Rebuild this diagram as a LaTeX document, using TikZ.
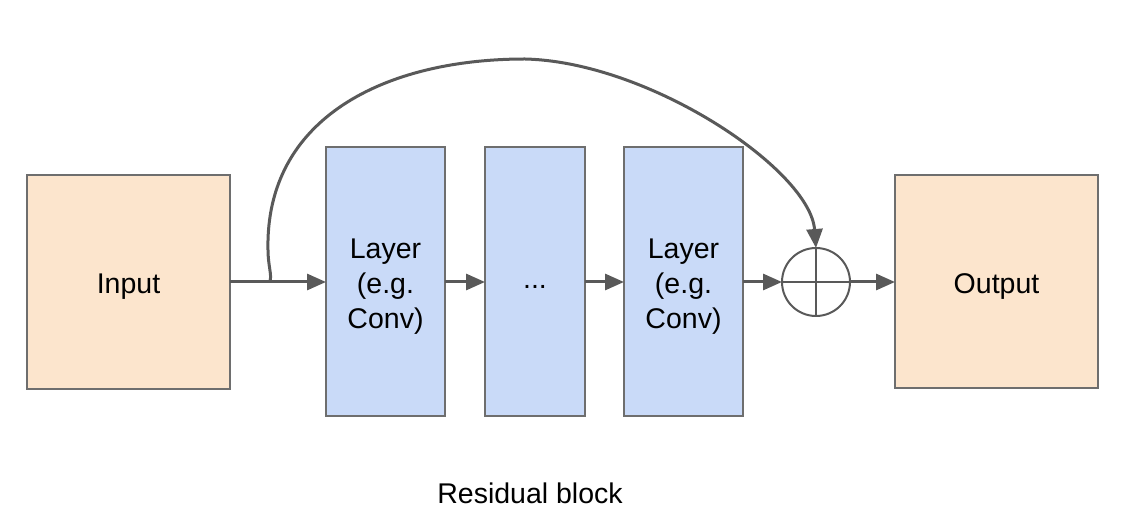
\documentclass[tikz,border=0pt]{standalone}
\usepackage{fontspec}
\setmainfont{Liberation Sans}
\usetikzlibrary{arrows.meta}
\definecolor{peach}{HTML}{FCE5CD}
\definecolor{lblue}{HTML}{C9DAF8}
\definecolor{bord}{HTML}{6E6E6E}
\definecolor{arr}{HTML}{595959}
\begin{document}
\begin{tikzpicture}[x=1pt,y=-1pt,
  box/.style={draw=bord,line width=1.5pt,inner sep=0pt,outer sep=0pt},
  io/.style={box,fill=peach,minimum width=203pt,minimum height=214pt},
  layer/.style={box,fill=lblue,minimum width=119pt,minimum height=269pt},
  txt/.style={align=center,inner sep=0pt,font=\fontsize{28.5}{35}\selectfont},
  conn/.style={draw=arr,line width=3pt,-{Triangle[length=19pt,width=16pt]}},
]
\useasboundingbox (0,0) rectangle (1125,526);
\node[io] (in) at (128.5,282) {};
\node[layer] (l1) at (385.5,281.5) {};
\node[layer,minimum width=100pt] (dots) at (535,281.5) {};
\node[layer] (l2) at (683.5,281.5) {};
\node[io,minimum height=213pt] (out) at (996.5,281.5) {};
\node[txt] (intx) at ([yshift=-5pt]in.center) {Input};
\node[txt] (l1tx) at ([yshift=-5pt]l1.center) {Layer\\(e.g.\\Conv)};
\node[txt] (dotstx) at ([yshift=-5pt]dots.center) {...};
\node[txt] (l2tx) at ([yshift=-5pt]l2.center) {Layer\\(e.g.\\Conv)};
\node[txt] (outtx) at ([yshift=-5pt]out.center) {Output};
\node[draw=arr,line width=2pt,circle,minimum size=68pt,inner sep=0pt,outer sep=0pt] (sum) at (816,282) {};
\draw[arr,line width=2pt] (sum.north) -- (sum.south) (sum.west) -- (sum.east);
\draw[conn] (in.east |- 0,282) -- (l1.west |- 0,282);
\draw[conn] (l1.east |- 0,282) -- (dots.west |- 0,282);
\draw[conn] (dots.east |- 0,282) -- (l2.west |- 0,282);
\draw[conn] (l2.east |- 0,282) -- (sum.west);
\draw[conn] (sum.east) -- (out.west |- 0,282);
\coordinate (s) at (270,281);
\draw[conn] (s) .. controls (272,275) and (268,265) .. (268,250)
  .. controls (265,118) and (385,59) .. (525,59)
  .. controls (650,62) and (810,170) .. (sum.north);
\node[txt] (cap) at (530,493) {Residual block};
\end{tikzpicture}
\end{document}
